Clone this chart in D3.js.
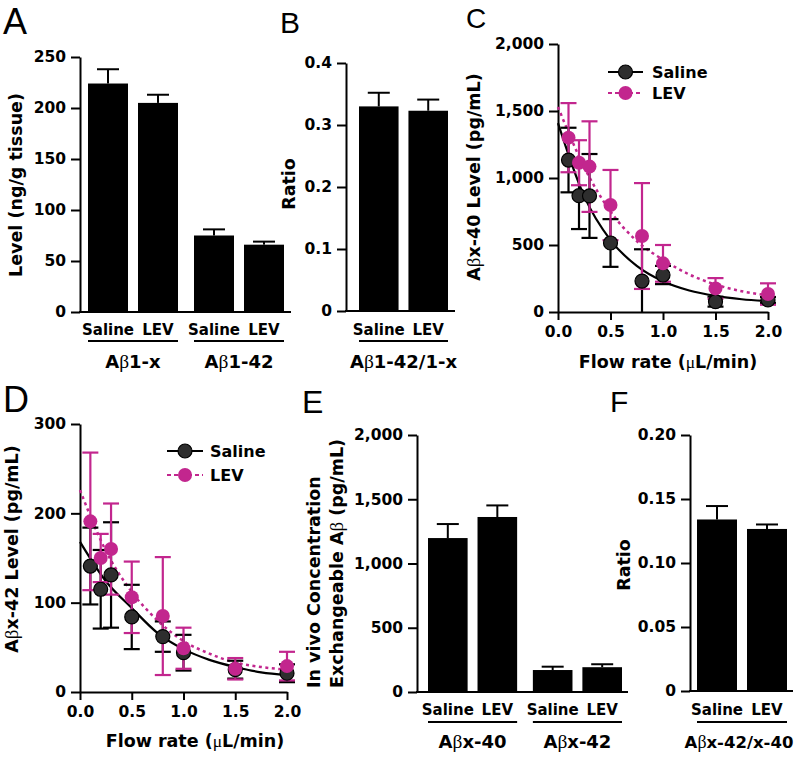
<!DOCTYPE html>
<html><head><meta charset="utf-8">
<script src="https://cdn.jsdelivr.net/npm/d3@7"></script>
<style>
body{margin:0;background:#fff}
svg{display:block;background:#fff}
</style>
</head><body>
<svg id="chart" width="799" height="757"></svg>
<script>
// ---------------- DATA ----------------
const seriesNames = ["Saline", "LEV"];

// Panel A
const groupsA = ["Aβ1-x", "Aβ1-42"];
const salineA = [224, 75];
const salineAErr = [14, 6];
const levA = [205, 66];
const levAErr = [8, 3];
const yTicksA = [0, 50, 100, 150, 200, 250];
const yTickLabelsA = ["0", "50", "100", "150", "200", "250"];

// Panel B
const groupsB = ["Aβ1-42/1-x"];
const salineB = [0.330];
const salineBErr = [0.022];
const levB = [0.323];
const levBErr = [0.018];
const yTicksB = [0, 0.1, 0.2, 0.3, 0.4];
const yTickLabelsB = ["0", "0.1", "0.2", "0.3", "0.4"];

// Panels C & D (microdialysis, flow rate)
const flowRates = [0.1, 0.2, 0.3, 0.5, 0.8, 1.0, 1.5, 2.0];
const salineC = [1134, 868, 866, 515, 231, 276, 77, 90];
const salineCErr = [241, 249, 313, 178, 237, 68, 37, 22];
const levC = [1301, 1114, 1085, 798, 567, 363, 176, 134];
const levCErr = [258, 168, 338, 262, 395, 137, 77, 80];
const fitX = [0, 0.25, 0.5, 0.75, 1.0, 1.25, 1.5, 1.75, 2.0];
const fitSalineC = [1410, 863, 537, 344, 229, 160, 120, 95, 81];
const fitLevC = [1530, 1080, 750, 530, 390, 280, 205, 155, 125];
const yTicksC = [0, 500, 1000, 1500, 2000];
const yTickLabelsC = ["0", "500", "1,000", "1,500", "2,000"];
const xTicksCD = [0, 0.5, 1.0, 1.5, 2.0];
const xTickLabelsCD = ["0.0", "0.5", "1.0", "1.5", "2.0"];

const salineD = [141, 115, 131, 84, 62, 44, 25, 21];
const salineDErr = [43, 44, 59, 36, 17, 20, 10, 10];
const levD = [191, 150, 160, 106, 85, 49, 26, 29];
const levDErr = [77, 27, 51, 40, 66, 23, 12, 16];
const fitSalineD = [168, 124, 94, 66, 48, 36, 28, 22, 19];
const fitLevD = [226, 158, 112, 80, 57, 43, 33, 28, 25];
const yTicksD = [0, 100, 200, 300];
const yTickLabelsD = ["0", "100", "200", "300"];

// Panel E
const groupsE = ["Aβx-40", "Aβx-42"];
const salineE = [1198, 171];
const salineEErr = [109, 26];
const levE = [1362, 193];
const levEErr = [90, 23];
const yTicksE = [0, 500, 1000, 1500, 2000];
const yTickLabelsE = ["0", "500", "1,000", "1,500", "2,000"];

// Panel F
const groupsF = ["Aβx-42/x-40"];
const salineF = [0.134];
const salineFErr = [0.0105];
const levF = [0.1266];
const levFErr = [0.0035];
const yTicksF = [0, 0.05, 0.10, 0.15, 0.20];
const yTickLabelsF = ["0", "0.05", "0.10", "0.15", "0.20"];

// ---------------- STYLE ----------------
const MAG = "#c2268e";
const DARK = "#2e2e2e";
const SANS = "DejaVu Sans";
const TICKFS = 15.5, CATFS = 15, GRPFS = 18, TITLEFS = 17.5;

const svg = d3.select("#chart");

function betaText(sel, label) {
  const parts = label.split("β");
  sel.append("tspan").text(parts[0]);
  sel.append("tspan").attr("font-family", "Liberation Serif").attr("font-weight", "normal")
    .attr("font-size", "1.08em").text("β");
  sel.append("tspan").text(parts[1]);
}

function styleAxis(g) {
  g.attr("font-family", null).attr("font-size", null);
  g.select(".domain").attr("stroke", "#000").attr("stroke-width", 2);
  g.selectAll(".tick line").attr("stroke", "#000").attr("stroke-width", 2);
  g.selectAll(".tick text").attr("font-family", SANS).attr("font-weight", "bold")
    .attr("font-size", TICKFS).attr("fill", "#000");
}

function panelLetter(letter, x, y, fs) {
  svg.append("text").attr("x", x).attr("y", y).attr("font-family", "Liberation Sans")
    .attr("font-size", fs).attr("fill", "#000").text(letter);
}

function yTitle(text, x, y, anchor, withBeta) {
  const t = svg.append("text").attr("transform", `translate(${x},${y}) rotate(-90)`)
    .attr("text-anchor", anchor || "middle").attr("font-family", SANS).attr("font-weight", "bold")
    .attr("font-size", TITLEFS).attr("fill", "#000");
  if (withBeta) betaText(t, text); else t.text(text);
}

function barPanel(cfg) {
  const g = svg.append("g");
  const y = d3.scaleLinear().domain([cfg.yTicks[0], cfg.yTicks[cfg.yTicks.length - 1]]).range([cfg.yBottom, cfg.yTop]);
  const x0 = d3.scaleBand().domain(cfg.groups).range(cfg.xRange).paddingInner(cfg.groupPad || 0).paddingOuter(0);
  const x1 = d3.scaleBand().domain(seriesNames).range([0, x0.bandwidth()]).paddingInner(0.2).paddingOuter(0);

  const ax = g.append("g").attr("transform", `translate(${cfg.axisX},0)`)
    .call(d3.axisLeft(y).tickValues(cfg.yTicks).tickFormat((d, i) => cfg.yTickLabels[i])
      .tickSize(9).tickSizeOuter(0).tickPadding(5));
  styleAxis(ax);

  g.append("line").attr("x1", cfg.axisX - 1).attr("x2", cfg.axisEnd).attr("y1", y(0)).attr("y2", y(0))
    .attr("stroke", "#000").attr("stroke-width", 2);

  const rows = [];
  cfg.groups.forEach((grp, gi) => {
    seriesNames.forEach((s, si) => {
      rows.push({ grp, s, v: cfg.values[si][gi], e: cfg.errs[si][gi] });
    });
  });
  const capHalf = 11;
  rows.forEach(r => {
    const bx = x0(r.grp) + x1(r.s);
    const cx = bx + x1.bandwidth() / 2;
    g.append("line").attr("x1", cx).attr("x2", cx).attr("y1", y(r.v)).attr("y2", y(r.v + r.e))
      .attr("stroke", "#000").attr("stroke-width", 2);
    g.append("line").attr("x1", cx - capHalf).attr("x2", cx + capHalf).attr("y1", y(r.v + r.e)).attr("y2", y(r.v + r.e))
      .attr("stroke", "#000").attr("stroke-width", 2);
    g.append("rect").attr("x", bx).attr("width", x1.bandwidth()).attr("y", y(r.v)).attr("height", y(0) - y(r.v))
      .attr("fill", "#000");
    g.append("text").attr("x", cx).attr("y", cfg.catY).attr("text-anchor", "middle")
      .attr("font-family", SANS).attr("font-weight", "bold").attr("font-size", CATFS).text(r.s);
  });
  cfg.groups.forEach(grp => {
    const gx = x0(grp);
    g.append("line").attr("x1", gx).attr("x2", gx + x0.bandwidth()).attr("y1", cfg.lineY).attr("y2", cfg.lineY)
      .attr("stroke", "#000").attr("stroke-width", 2);
    const t = g.append("text").attr("x", gx + x0.bandwidth() / 2 + (cfg.groupDx || 0)).attr("y", cfg.groupY)
      .attr("text-anchor", "middle")
      .attr("font-family", SANS).attr("font-weight", "bold").attr("font-size", cfg.groupFs || GRPFS);
    betaText(t, grp);
  });
}

function scatterPanel(cfg) {
  const g = svg.append("g");
  const x = d3.scaleLinear().domain([0, 2]).range([cfg.axisX, cfg.xEnd]);
  const y = d3.scaleLinear().domain([cfg.yTicks[0], cfg.yTicks[cfg.yTicks.length - 1]]).range([cfg.yBottom, cfg.yTop]);

  const ay = g.append("g").attr("transform", `translate(${cfg.axisX},0)`)
    .call(d3.axisLeft(y).tickValues(cfg.yTicks).tickFormat((d, i) => cfg.yTickLabels[i])
      .tickSize(9).tickSizeOuter(0).tickPadding(5));
  styleAxis(ay);
  const axx = g.append("g").attr("transform", `translate(0,${cfg.yBottom})`)
    .call(d3.axisBottom(x).tickValues(xTicksCD).tickFormat((d, i) => xTickLabelsCD[i])
      .tickSize(8).tickSizeOuter(0).tickPadding(6));
  styleAxis(axx);

  const line = d3.line().x((d, i) => x(fitX[i])).y(d => y(d)).curve(d3.curveMonotoneX);
  g.append("path").attr("d", line(cfg.fitLev)).attr("fill", "none").attr("stroke", MAG)
    .attr("stroke-width", 2.5).attr("stroke-dasharray", "3,3.5");
  g.append("path").attr("d", line(cfg.fitSaline)).attr("fill", "none").attr("stroke", "#000")
    .attr("stroke-width", 2.2);

  const cap = 8;
  function errs(vals, es, color) {
    vals.forEach((v, i) => {
      const cx = x(flowRates[i]);
      const lo = Math.max(0, v - es[i]), hi = v + es[i];
      g.append("line").attr("x1", cx).attr("x2", cx).attr("y1", y(lo)).attr("y2", y(hi))
        .attr("stroke", color).attr("stroke-width", 2.2);
      [lo, hi].forEach(b => {
        if (b <= 0) return;
        g.append("line").attr("x1", cx - cap).attr("x2", cx + cap).attr("y1", y(b)).attr("y2", y(b))
          .attr("stroke", color).attr("stroke-width", 2.2);
      });
    });
  }
  errs(cfg.saline, cfg.salineErr, "#000");
  errs(cfg.lev, cfg.levErr, MAG);
  cfg.saline.forEach((v, i) => {
    g.append("circle").attr("cx", x(flowRates[i])).attr("cy", y(v)).attr("r", 7)
      .attr("fill", DARK).attr("stroke", "#000").attr("stroke-width", 1.2);
  });
  cfg.lev.forEach((v, i) => {
    g.append("circle").attr("cx", x(flowRates[i])).attr("cy", y(v)).attr("r", 7)
      .attr("fill", MAG);
  });

  const t = g.append("text").attr("x", cfg.xTitleX).attr("y", cfg.xTitleY).attr("text-anchor", "middle")
    .attr("font-family", SANS).attr("font-weight", "bold").attr("font-size", TITLEFS);
  t.append("tspan").text("Flow rate (");
  t.append("tspan").attr("font-family", "Liberation Serif").attr("font-weight", "normal").text("μ");
  t.append("tspan").text("L/min)");

  const L = cfg.legend;
  [["Saline", "#000", null, DARK], ["LEV", MAG, "4,3", MAG]].forEach((s, i) => {
    const ly = L.y + i * L.dy;
    g.append("line").attr("x1", L.x1).attr("x2", L.x2).attr("y1", ly).attr("y2", ly)
      .attr("stroke", s[1]).attr("stroke-width", 2.2).attr("stroke-dasharray", s[2]);
    g.append("circle").attr("cx", (L.x1 + L.x2) / 2).attr("cy", ly).attr("r", 7)
      .attr("fill", s[3]).attr("stroke", i === 0 ? "#000" : null).attr("stroke-width", 1.2);
    g.append("text").attr("x", L.tx).attr("y", ly + 6).attr("font-family", SANS).attr("font-weight", "bold")
      .attr("font-size", 16).text(s[0]);
  });
}

// ---------------- PANELS ----------------
panelLetter("A", 3, 34, 36);
barPanel({
  groups: groupsA, values: [salineA, levA], errs: [salineAErr, levAErr],
  yTicks: yTicksA, yTickLabels: yTickLabelsA, yBottom: 312, yTop: 57,
  axisX: 80, axisEnd: 291, xRange: [88, 284], groupPad: 0.151,
  catY: 335, lineY: 341, groupY: 368
});
yTitle("Level (ng/g tissue)", 22, 185);

panelLetter("B", 280, 33, 30);
barPanel({
  groups: groupsB, values: [salineB, levB], errs: [salineBErr, levBErr],
  yTicks: yTicksB, yTickLabels: yTickLabelsB, yBottom: 311, yTop: 63,
  axisX: 346, axisEnd: 455, xRange: [359, 448], groupPad: 0,
  catY: 335, lineY: 341, groupY: 368
});
yTitle("Ratio", 295, 184);

panelLetter("C", 466, 28, 28);
scatterPanel({
  saline: salineC, salineErr: salineCErr, lev: levC, levErr: levCErr,
  fitSaline: fitSalineC, fitLev: fitLevC,
  yTicks: yTicksC, yTickLabels: yTickLabelsC, yBottom: 312, yTop: 44,
  axisX: 558, xEnd: 768, xTitleX: 668, xTitleY: 368,
  legend: { x1: 608, x2: 643, tx: 652, y: 72, dy: 21 }
});
yTitle("Aβx-40 Level (pg/mL)", 480, 177, "middle", true);

panelLetter("D", 3, 412, 36);
scatterPanel({
  saline: salineD, salineErr: salineDErr, lev: levD, levErr: levDErr,
  fitSaline: fitSalineD, fitLev: fitLevD,
  yTicks: yTicksD, yTickLabels: yTickLabelsD, yBottom: 692, yTop: 424,
  axisX: 80, xEnd: 287, xTitleX: 195, xTitleY: 747,
  legend: { x1: 167, x2: 203, tx: 210, y: 451, dy: 24 }
});
yTitle("Aβx-42 Level (pg/mL)", 18, 549, "middle", true);

panelLetter("E", 302, 413, 32);
barPanel({
  groups: groupsE, values: [salineE, levE], errs: [salineEErr, levEErr],
  yTicks: yTicksE, yTickLabels: yTickLabelsE, yBottom: 692, yTop: 435,
  axisX: 417, axisEnd: 628, xRange: [428, 622], groupPad: 0.15,
  catY: 715, lineY: 722, groupY: 748
});
yTitle("In vivo Concentration", 320, 688, "start");
yTitle("Exchangeable Aβ (pg/mL)", 343, 688, "start", true);

panelLetter("F", 610, 412, 30);
barPanel({
  groups: groupsF, values: [salineF, levF], errs: [salineFErr, levFErr],
  yTicks: yTicksF, yTickLabels: yTickLabelsF, yBottom: 691, yTop: 435,
  axisX: 690, axisEnd: 793, xRange: [697, 787], groupPad: 0,
  catY: 715, lineY: 722, groupY: 748, groupFs: 16.5, groupDx: -3
});
yTitle("Ratio", 630, 565);
</script>
</body></html>
